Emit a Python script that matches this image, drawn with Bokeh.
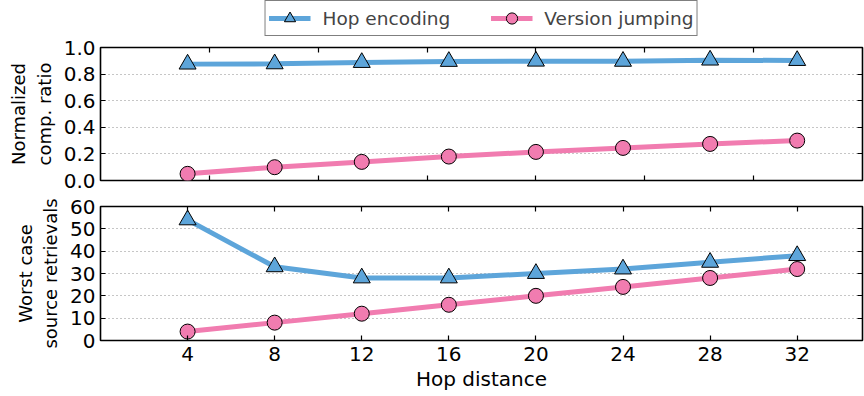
from bokeh.plotting import figure
from bokeh.layouts import column
from bokeh.models import (FixedTicker, LinearAxis, Range1d, Legend, LegendItem,
                          PrintfTickFormatter, CustomJSTickFormatter)
from bokeh.embed import file_html
from bokeh.resources import INLINE

# ---- data ----
hops = [4, 8, 12, 16, 20, 24, 28, 32]
hop_ratio = [0.875, 0.877, 0.887, 0.895, 0.897, 0.896, 0.905, 0.902]
vj_ratio = [0.05, 0.10, 0.14, 0.18, 0.215, 0.245, 0.275, 0.30]
hop_retr = [54, 33, 28, 28, 30, 32, 35, 38]
vj_retr = [4, 8, 12, 16, 20, 24, 28, 32]

series_names = ["Hop encoding", "Version jumping"]
top_xticks = [5, 10, 15, 20, 25, 30]
ratio_ticks = [0.0, 0.2, 0.4, 0.6, 0.8, 1.0]
retr_ticks = [0, 10, 20, 30, 40, 50, 60]
x_label = "Hop distance"
y_label_top = "Normalized\ncomp. ratio"
y_label_bottom = "Worst case\nsource retrievals"

BLUE = "#5DA5DA"
PINK = "#F17CB0"
FONT = "DejaVu Sans"
W = 864


def style_axis(ax, ticks, show_labels, fmt=None):
    ax.ticker = FixedTicker(ticks=ticks)
    ax.major_tick_in = 5
    ax.major_tick_out = 0
    ax.major_tick_line_color = "black"
    ax.major_tick_line_width = 1.2
    ax.minor_tick_line_color = None
    ax.axis_line_color = None
    ax.major_label_text_font = FONT
    ax.axis_label_text_font = FONT
    ax.axis_label_text_font_style = "normal"
    ax.major_label_text_color = "black"
    ax.axis_label_text_color = "black"
    if fmt is not None:
        ax.formatter = fmt
    if show_labels:
        ax.major_label_text_font_size = "20px"
        ax.major_label_standoff = 5
    else:
        ax.formatter = CustomJSTickFormatter(code="return ''")
        ax.major_label_text_font_size = "1px"
        ax.major_label_standoff = 0


def make_fig(height, yr, border_top, border_bottom):
    p = figure(width=W, height=height, x_range=Range1d(0, 35), y_range=yr,
               output_backend="svg", toolbar_location=None,
               min_border_left=100, min_border_right=2,
               min_border_top=border_top, min_border_bottom=border_bottom)
    p.outline_line_color = "black"
    p.outline_line_width = 1.6
    p.outline_line_alpha = 1.0
    p.xgrid.visible = False
    p.ygrid.grid_line_color = "#8c8c8c"
    p.ygrid.grid_line_dash = "1 3"
    p.ygrid.grid_line_width = 1
    p.background_fill_color = "white"
    p.border_fill_color = "white"
    return p


def add_series(p, xs, ys_hop, ys_vj):
    l1 = p.line(xs, ys_hop, line_color=BLUE, line_width=5)
    m1 = p.scatter(xs, ys_hop, marker="triangle", size=17, fill_color=BLUE,
                   line_color="black", line_width=1)
    l2 = p.line(xs, ys_vj, line_color=PINK, line_width=5)
    m2 = p.scatter(xs, ys_vj, marker="circle", size=15, fill_color=PINK,
                   line_color="black", line_width=1)
    return (l1, m1), (l2, m2)


# ---- legend strip (proxy glyphs fall outside its visible range) ----
p0 = figure(width=W, height=36, x_range=Range1d(0, 35), y_range=Range1d(100, 101),
            output_backend="svg", toolbar_location=None,
            x_axis_location=None, y_axis_location=None,
            min_border_left=100, min_border_right=2,
            min_border_top=0, min_border_bottom=0)
p0.outline_line_color = None
p0.grid.visible = False
p0.border_fill_color = "white"
s_hop, s_vj = add_series(p0, hops, hop_ratio, vj_ratio)
legend = Legend(items=[LegendItem(label=series_names[0], renderers=list(s_hop)),
                       LegendItem(label=series_names[1], renderers=list(s_vj))],
                orientation="horizontal", location="center")
legend.border_line_color = "black"
legend.border_line_width = 1
legend.padding = 3
legend.margin = 0
legend.spacing = 40
legend.glyph_width = 42
legend.glyph_height = 28
legend.label_height = 28
legend.label_standoff = 12
legend.label_text_font = FONT
legend.label_text_font_size = "18.5px"
legend.background_fill_alpha = 1
p0.add_layout(legend, "center")

# ---- top panel ----
p1 = make_fig(157, Range1d(0, 1), 11, 13)
style_axis(p1.xaxis[0], top_xticks, False)
style_axis(p1.yaxis[0], ratio_ticks, True, PrintfTickFormatter(format="%.1f"))
p1.yaxis[0].axis_label = y_label_top
p1.yaxis[0].axis_label_text_font_size = "18px"
p1.yaxis[0].axis_label_standoff = 6
r_ax1 = LinearAxis()
style_axis(r_ax1, ratio_ticks, False)
p1.add_layout(r_ax1, "right")
t_ax1 = LinearAxis()
style_axis(t_ax1, top_xticks, False)
p1.add_layout(t_ax1, "above")
add_series(p1, hops, hop_ratio, vj_ratio)

# ---- bottom panel ----
p2 = make_fig(203, Range1d(0, 60), 13, 56)
style_axis(p2.xaxis[0], hops, True)
p2.xaxis[0].axis_label = x_label
p2.xaxis[0].axis_label_text_font_size = "20px"
p2.xaxis[0].major_label_standoff = 6
p2.xaxis[0].axis_label_standoff = 3
style_axis(p2.yaxis[0], retr_ticks, True)
p2.yaxis[0].axis_label = y_label_bottom
p2.yaxis[0].axis_label_text_font_size = "18px"
p2.yaxis[0].axis_label_standoff = 6
r_ax2 = LinearAxis()
style_axis(r_ax2, retr_ticks, False)
p2.add_layout(r_ax2, "right")
t_ax2 = LinearAxis()
style_axis(t_ax2, hops, False)
p2.add_layout(t_ax2, "above")
add_series(p2, hops, hop_retr, vj_retr)

layout = column(p0, p1, p2, spacing=0)
open("out.html", "w").write(file_html(layout, INLINE))
